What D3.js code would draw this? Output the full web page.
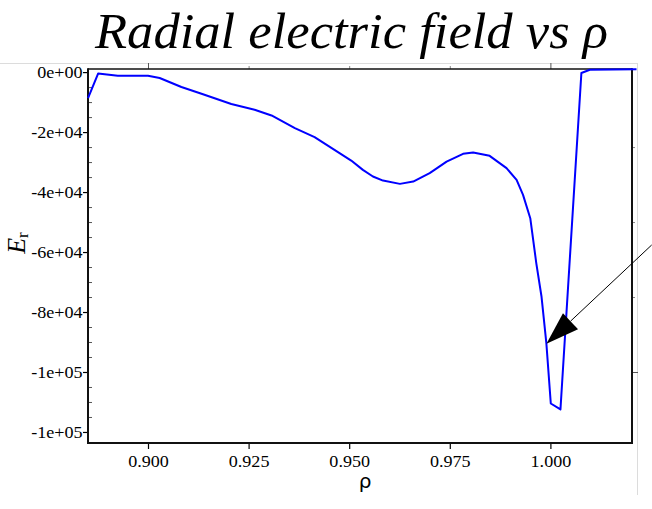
<!DOCTYPE html>
<html><head><meta charset="utf-8">
<script src="https://cdn.jsdelivr.net/npm/d3@7"></script>
<style>body{margin:0;background:#fff;} svg{display:block;}</style>
</head><body>
<svg id="c" width="652" height="509"></svg>
<script>
// ---- data ----
const rho = [0.8851, 0.8876, 0.8925, 0.9000, 0.9029, 0.9083, 0.9133, 0.9207, 0.9265, 0.9307,
             0.9365, 0.9414, 0.9476, 0.9505, 0.9534, 0.9559, 0.9584, 0.9626, 0.9659, 0.9700,
             0.9722, 0.9742, 0.9783, 0.9808, 0.9849, 0.9891, 0.9916, 0.9932, 0.9950, 0.9965,
             0.9978, 0.9990, 1.0001, 1.0025, 1.0077, 1.0098, 1.0214];
const er  = [-8650, -500, -1200, -1200, -1970, -4980, -7210, -10650, -12560, -14460,
             -18670, -21680, -27020, -29500, -32600, -34800, -36170, -37270, -36500, -33700,
             -31700, -29830, -27250, -26820, -27920, -32030, -35940, -40950, -48730, -63760,
             -74920, -90480, -110500, -112500, -300, 800, 970];
const xTicks = [0.900, 0.925, 0.950, 0.975, 1.000];
const xTickLabels = ["0.900", "0.925", "0.950", "0.975", "1.000"];
const yTicks = [0, -20000, -40000, -60000, -80000, -100000, -120000];
const yTickLabels = ["0e+00", "-2e+04", "-4e+04", "-6e+04", "-8e+04", "-1e+05", "-1e+05"];
const yMinorTicks = d3.range(0, -125000, -5000);
const topMajor = [0.9, 1.0];
const topMinor = [0.925, 0.950, 0.975];
const rightMajor = [-100000];
const rightMinor = [-25000, -50000, -75000];
const xDomain = [0.88509, 1.02028];
const yDomain = [-123680, 1035];
const titleText = "Radial electric field vs ρ";
const arrowTip = [0.99902, -90600];
const arrowTail = [1.02517, -57650];

// ---- layout ----
const svg = d3.select("#c");
const L = 88, T = 69, W = 544, H = 374;
const x = d3.scaleLinear().domain(xDomain).range([L, L + W]);
const y = d3.scaleLinear().domain(yDomain).range([T + H, T]);
const serif = "Liberation Serif, Times New Roman, Times, serif";
const stretch = 1.13;

// screenshot-edge artifacts
svg.append("line").attr("x1", 0).attr("x2", 637).attr("y1", 63.5).attr("y2", 63.5)
  .attr("stroke", "#dcdcdc").attr("stroke-width", 1);
svg.append("line").attr("x1", 637.5).attr("x2", 637.5).attr("y1", 63).attr("y2", 495)
  .attr("stroke", "#dcdcdc").attr("stroke-width", 1);

// title
const tt = svg.append("text").attr("x", 351.5).attr("y", 48).attr("text-anchor", "middle")
  .attr("font-family", serif).attr("font-style", "italic").attr("font-size", 50)
  .attr("fill", "#000").text(titleText);
tt.attr("textLength", 513).attr("lengthAdjust", "spacingAndGlyphs");

function stretchText(sel) {
  sel.selectAll("text").each(function () {
    const len = this.getComputedTextLength();
    d3.select(this).attr("textLength", len * stretch).attr("lengthAdjust", "spacingAndGlyphs");
  });
}

// bottom axis
const gx = svg.append("g").attr("transform", `translate(0,${T + H})`)
  .call(d3.axisBottom(x).tickValues(xTicks).tickFormat((d, i) => xTickLabels[i])
    .tickSize(6).tickSizeOuter(0).tickPadding(7));
gx.attr("font-family", serif).attr("font-size", 16);
gx.select(".domain").remove();
gx.selectAll("text").attr("fill", "#000");
gx.selectAll("line").attr("stroke", "#000").attr("stroke-width", 1.2);
stretchText(gx);

// left axis
const gy = svg.append("g").attr("transform", `translate(${L},0)`)
  .call(d3.axisLeft(y).tickValues(yTicks).tickFormat((d, i) => yTickLabels[i])
    .tickSize(5).tickSizeOuter(0).tickPadding(0.5));
gy.attr("font-family", serif).attr("font-size", 16);
gy.select(".domain").remove();
gy.selectAll("text").attr("fill", "#000").attr("dy", "0.36em");
gy.selectAll("line").attr("stroke", "#000").attr("stroke-width", 1.2);
stretchText(gy);
const gym = svg.append("g").attr("transform", `translate(${L},0)`)
  .call(d3.axisLeft(y).tickValues(yMinorTicks.filter(v => v % 20000 !== 0)).tickFormat("").tickSize(-4).tickSizeOuter(0));
gym.select(".domain").remove();
gym.selectAll("line").attr("stroke", "#555").attr("stroke-width", 1);

// top axis
const gt = svg.append("g").attr("transform", `translate(0,${T})`)
  .call(d3.axisTop(x).tickValues(topMajor).tickFormat("").tickSize(6).tickSizeOuter(0));
gt.select(".domain").remove();
gt.selectAll("line").attr("stroke", "#555").attr("stroke-width", 1);
const gtm = svg.append("g").attr("transform", `translate(0,${T})`)
  .call(d3.axisTop(x).tickValues(topMinor).tickFormat("").tickSize(3).tickSizeOuter(0));
gtm.select(".domain").remove();
gtm.selectAll("line").attr("stroke", "#888").attr("stroke-width", 1);

// right axis
const gr = svg.append("g").attr("transform", `translate(${L + W},0)`)
  .call(d3.axisRight(y).tickValues(rightMajor).tickFormat("").tickSize(6).tickSizeOuter(0));
gr.select(".domain").remove();
gr.selectAll("line").attr("stroke", "#555").attr("stroke-width", 1);
const grm = svg.append("g").attr("transform", `translate(${L + W},0)`)
  .call(d3.axisRight(y).tickValues(rightMinor).tickFormat("").tickSize(3).tickSizeOuter(0));
grm.select(".domain").remove();
grm.selectAll("line").attr("stroke", "#888").attr("stroke-width", 1);

// frame
svg.append("line").attr("x1", L).attr("x2", L + W).attr("y1", T).attr("y2", T).attr("stroke", "#111").attr("stroke-width", 1.5);
svg.append("line").attr("x1", L).attr("x2", L).attr("y1", T - 0.75).attr("y2", T + H + 1).attr("stroke", "#111").attr("stroke-width", 2);
svg.append("line").attr("x1", L - 1).attr("x2", L + W + 1).attr("y1", T + H).attr("y2", T + H).attr("stroke", "#111").attr("stroke-width", 2);
svg.append("line").attr("x1", L + W).attr("x2", L + W).attr("y1", T - 0.75).attr("y2", T + H + 1).attr("stroke", "#111").attr("stroke-width", 2);

// curve
const pts = rho.map((r, i) => [r, er[i]]);
svg.append("path").datum(pts)
  .attr("d", d3.line().x(d => x(d[0])).y(d => y(d[1])).curve(d3.curveLinear))
  .attr("fill", "none").attr("stroke", "#0000ff").attr("stroke-width", 2).attr("stroke-linejoin", "round");

// arrow annotation
const tip = [x(arrowTip[0]), y(arrowTip[1])];
const tail = [x(arrowTail[0]), y(arrowTail[1])];
const dx = tail[0] - tip[0], dy = tail[1] - tip[1];
const len = Math.hypot(dx, dy), ux = dx / len, uy = dy / len;
const headL = 33, headW = 11;
const base = [tip[0] + ux * headL, tip[1] + uy * headL];
svg.append("line").attr("x1", tail[0]).attr("y1", tail[1]).attr("x2", base[0]).attr("y2", base[1])
  .attr("stroke", "#000").attr("stroke-width", 1);
svg.append("polygon")
  .attr("points", [tip, [base[0] - uy * headW, base[1] + ux * headW], [base[0] + uy * headW, base[1] - ux * headW]].map(p => p.join(",")).join(" "))
  .attr("fill", "#000");

// axis titles
const yt = svg.append("text").attr("transform", "translate(25,243) rotate(-90)")
  .attr("text-anchor", "middle").attr("font-family", serif).attr("font-size", 26).attr("fill", "#000");
yt.append("tspan").attr("font-style", "italic").text("E");
yt.append("tspan").attr("dy", "0.2em").attr("font-size", 17).text("r");

svg.append("text").attr("x", 365).attr("y", 488).attr("text-anchor", "middle")
  .attr("font-family", "DejaVu Sans, sans-serif").attr("font-size", 20).attr("fill", "#000").text("ρ");
</script>
</body></html>
